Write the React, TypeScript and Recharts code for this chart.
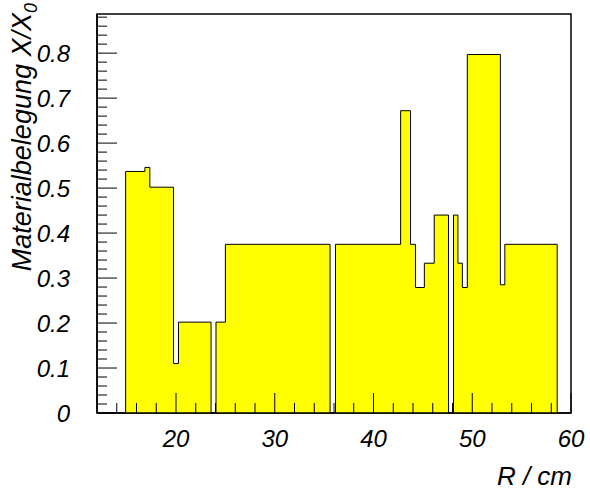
import React from "react";
import {
  ComposedChart,
  Area,
  XAxis,
  YAxis,
  ReferenceArea,
} from "recharts";

// Step edges in R (cm) and the material budget X/X0 from each edge to the next
const rEdges = [
  14.9, 16.85, 17.35, 19.75, 20.25, 23.55, 24.05, 25.0, 35.6, 36.15, 42.75,
  43.75, 44.25, 45.15, 46.15, 47.6, 48.1, 48.55, 49.0, 49.5, 52.85, 53.3, 58.6,
];
const x0Values = [
  0.537, 0.546, 0.502, 0.11, 0.202, 0, 0.202, 0.375, 0, 0.375, 0.672, 0.375,
  0.279, 0.333, 0.44, 0, 0.44, 0.333, 0.279, 0.797, 0.285, 0.375, 0,
];

const xMajor = [20, 30, 40, 50, 60];
const xTicks = [
  14, 16, 18, 20, 22, 24, 26, 28, 30, 32, 34, 36, 38, 40, 42, 44, 46, 48, 50,
  52, 54, 56, 58, 60,
];
const yMajor = [0, 0.1, 0.2, 0.3, 0.4, 0.5, 0.6, 0.7, 0.8];
// minor ticks every 0.02 up to the frame top
const yTicks = Array.from({ length: 45 }, (_, i) => i / 50);

const X_DOMAIN: [number, number] = [12, 60];
const Y_DOMAIN: [number, number] = [0, 0.887];

const FONT = "'Liberation Sans', Arial, Helvetica, sans-serif";
const TICK_FONT_SIZE = 24;

// leading zero so the outline rises from the baseline
const data = [
  { r: rEdges[0], v: 0 },
  ...rEdges.map((r, i) => ({ r, v: x0Values[i] })),
];

const isYMajor = (v: number) => yMajor.some((m) => Math.abs(m - v) < 1e-6);

function XTick(props: any) {
  const { x, y, payload } = props;
  const major = xMajor.includes(payload.value);
  return (
    <g>
      <line x1={x} x2={x} y1={y} y2={y - (major ? 20 : 10)} stroke="#000" strokeWidth={1} />
      {major && (
        <text
          x={x}
          y={y + 34}
          textAnchor="middle"
          fontFamily={FONT}
          fontStyle="italic"
          fontSize={TICK_FONT_SIZE}
          fill="#000"
        >
          {payload.value}
        </text>
      )}
    </g>
  );
}

function YTick(props: any) {
  const { x, y, payload } = props;
  const major = isYMajor(payload.value);
  const label = major ? String(Math.round(payload.value * 10) / 10) : "";
  return (
    <g>
      <line x1={x} x2={x + (major ? 20 : 10)} y1={y} y2={y} stroke="#000" strokeWidth={1} />
      {major && (
        <text
          x={x - 27}
          y={y + 8.5}
          textAnchor="end"
          fontFamily={FONT}
          fontStyle="italic"
          fontSize={TICK_FONT_SIZE}
          fill="#000"
        >
          {label}
        </text>
      )}
    </g>
  );
}

export default function App() {
  return (
    <div style={{ position: "absolute", left: 0, top: 0, width: 590, height: 492, background: "#fff" }}>
      <ComposedChart
        width={590}
        height={492}
        data={data}
        margin={{ top: 14, right: 19, bottom: 0, left: 0 }}
      >
        <ReferenceArea
          x1={X_DOMAIN[0]}
          x2={X_DOMAIN[1]}
          y1={Y_DOMAIN[0]}
          y2={Y_DOMAIN[1]}
          fill="none"
          stroke="#000"
          strokeWidth={1.5}
        />
        <Area
          type="stepAfter"
          dataKey="v"
          fill="#ffff00"
          fillOpacity={1}
          stroke="#000"
          strokeWidth={1}
          dot={false}
          activeDot={false}
          isAnimationActive={false}
        />
        <XAxis
          dataKey="r"
          type="number"
          domain={X_DOMAIN}
          ticks={xTicks}
          interval={0}
          allowDataOverflow
          height={79}
          tickSize={0}
          tickMargin={0}
          tickLine={false}
          axisLine={{ stroke: "#000", strokeWidth: 1.5 }}
          tick={<XTick />}
          label={{
            content: () => (
              <text
                x={572}
                y={485}
                textAnchor="end"
                fontFamily={FONT}
                fontStyle="italic"
                fontSize={26}
                fill="#000"
              >
                R / cm
              </text>
            ),
          }}
        />
        <YAxis
          type="number"
          domain={Y_DOMAIN}
          ticks={yTicks}
          interval={0}
          allowDataOverflow
          width={97}
          tickSize={0}
          tickMargin={0}
          tickLine={false}
          axisLine={{ stroke: "#000", strokeWidth: 1.5 }}
          tick={<YTick />}
          label={{
            content: () => (
              <text
                transform="translate(31,3) rotate(-90)"
                x={0}
                y={0}
                textAnchor="end"
                fontFamily={FONT}
                fontStyle="italic"
                fontSize={27}
                fill="#000"
              >
                Materialbelegung X/X
                <tspan fontSize={18} dy={6}>
                  0
                </tspan>
              </text>
            ),
          }}
        />
      </ComposedChart>
    </div>
  );
}
